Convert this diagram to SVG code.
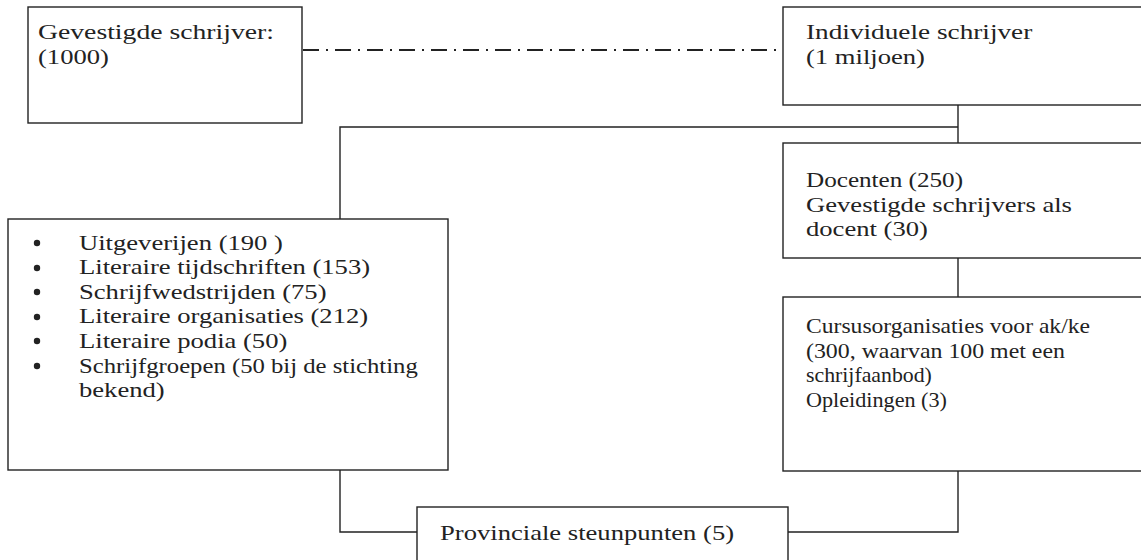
<svg xmlns="http://www.w3.org/2000/svg" width="1141" height="560" viewBox="0 0 1141 560">
<style>
.box{fill:#fff;stroke:#222;stroke-width:1.4}
.ln{fill:none;stroke:#222;stroke-width:1.4}
.dd{fill:none;stroke:#222;stroke-width:2;stroke-dasharray:16 7 2 7}
text{font-family:"Liberation Serif","Times New Roman",serif;font-size:22px;fill:#222}
.bul{fill:#222}
</style>
<rect width="1141" height="560" fill="#fff"/>
<g id="connectors">
<line class="dd" x1="303" y1="50" x2="783" y2="50"/>
<polyline class="ln" points="958,105 958,143"/>
<polyline class="ln" points="340,219 340,127 958,127"/>
<polyline class="ln" points="958,258 958,297"/>
<polyline class="ln" points="340,470 340,532 417,532"/>
<polyline class="ln" points="958,471 958,532 788,532"/>
</g>
<g id="gevestigde">
<rect class="box" x="28" y="7" width="274" height="116"/>
<text transform="translate(38,39) scale(1.21,1)" textLength="195" lengthAdjust="spacingAndGlyphs">Gevestigde schrijver:</text>
<text transform="translate(38,63.5) scale(1.21,1)">(1000)</text>
</g>
<g id="individuele">
<rect class="box" x="783" y="7" width="362" height="98"/>
<text transform="translate(806,39) scale(1.21,1)" textLength="187" lengthAdjust="spacingAndGlyphs">Individuele schrijver</text>
<text transform="translate(806,63.5) scale(1.21,1)">(1 miljoen)</text>
</g>
<g id="docenten">
<rect class="box" x="783" y="143" width="362" height="115"/>
<text transform="translate(806,187) scale(1.21,1)" textLength="129.8" lengthAdjust="spacingAndGlyphs">Docenten (250)</text>
<text transform="translate(806,211.5) scale(1.21,1)">Gevestigde schrijvers als</text>
<text transform="translate(806,236) scale(1.21,1)">docent (30)</text>
</g>
<g id="cursus">
<rect class="box" x="783" y="297" width="362" height="174"/>
<text transform="translate(806,333) scale(1.21,1)" textLength="234.7" lengthAdjust="spacingAndGlyphs">Cursusorganisaties voor ak/ke</text>
<text transform="translate(806,357.5) scale(1.21,1)" textLength="214" lengthAdjust="spacingAndGlyphs">(300, waarvan 100 met een</text>
<text transform="translate(806,382) scale(1.21,1)" textLength="104" lengthAdjust="spacingAndGlyphs">schrijfaanbod)</text>
<text transform="translate(806,406.5) scale(1.21,1)" textLength="116.5" lengthAdjust="spacingAndGlyphs">Opleidingen (3)</text>
</g>
<g id="lijst">
<rect class="box" x="8" y="219" width="440" height="251"/>
<circle class="bul" cx="37" cy="243" r="3.2"/>
<circle class="bul" cx="37" cy="268" r="3.2"/>
<circle class="bul" cx="37" cy="292" r="3.2"/>
<circle class="bul" cx="37" cy="317" r="3.2"/>
<circle class="bul" cx="37" cy="341" r="3.2"/>
<circle class="bul" cx="37" cy="366" r="3.2"/>
<text transform="translate(79,250) scale(1.21,1)"><tspan x="0" y="0">Uitgeverijen (190 )</tspan><tspan x="0" y="24.5">Literaire tijdschriften (153)</tspan><tspan x="0" y="49">Schrijfwedstrijden (75)</tspan><tspan x="0" y="73.5">Literaire organisaties (212)</tspan><tspan x="0" y="98">Literaire podia (50)</tspan></text>
<text transform="translate(79,372.5) scale(1.21,1)" textLength="280" lengthAdjust="spacingAndGlyphs">Schrijfgroepen (50 bij de stichting</text>
<text transform="translate(79,397) scale(1.21,1)">bekend)</text>
</g>
<g id="provinciale">
<rect class="box" x="417" y="507" width="371" height="60"/>
<text transform="translate(440,540) scale(1.21,1)">Provinciale steunpunten (5)</text>
</g>
</svg>
